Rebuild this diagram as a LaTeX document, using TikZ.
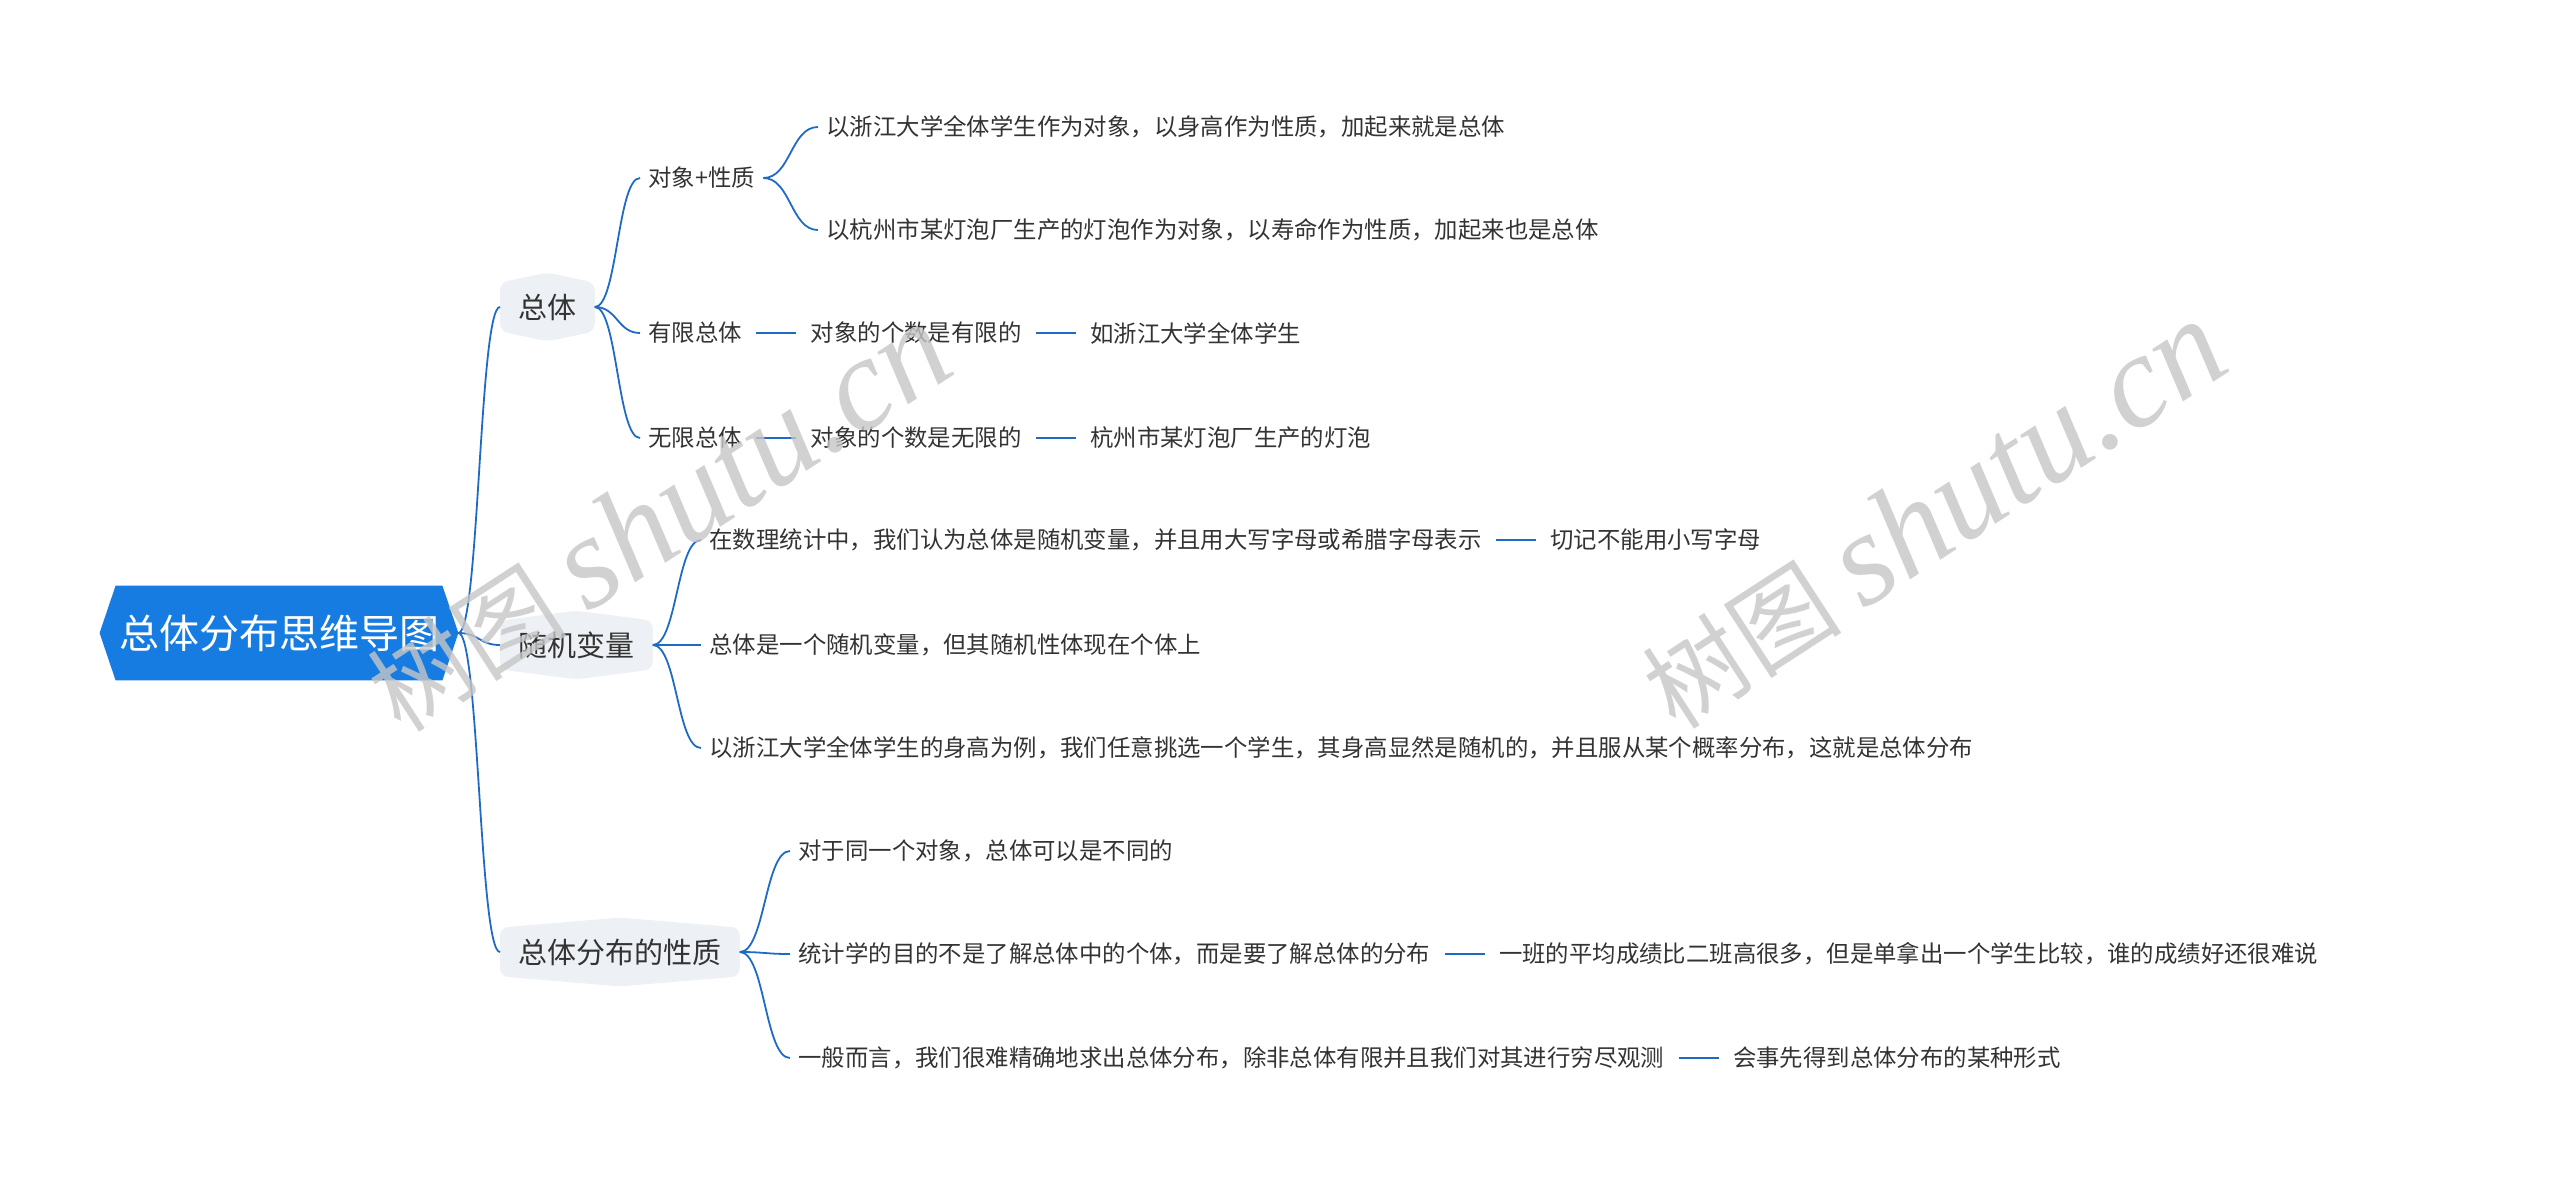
\documentclass[tikz,border=0pt]{standalone}
\usepackage{fontspec}
\setmainfont{Noto Sans CJK SC}
\newfontfamily\wmlatin{Liberation Serif}
\usetikzlibrary{positioning,calc,backgrounds}
\definecolor{rootblue}{HTML}{167CE1}
\definecolor{linkblue}{HTML}{1F6BC4}
\definecolor{topicbg}{HTML}{EDF0F4}
\definecolor{inkgrey}{HTML}{333333}
\tikzset{>=latex}
\tikzset{
  rootnode/.style={font=\fontsize{20pt}{24pt}\selectfont, text=white,
    minimum width=179pt, minimum height=47pt, inner sep=0pt},
  topic/.style={font=\fontsize{14.5pt}{17pt}\selectfont, text=inkgrey,
    inner xsep=9pt, minimum height=34pt, anchor=west},
  leaf/.style={font=\fontsize{11.7pt}{14pt}\selectfont, text=inkgrey,
    inner xsep=4pt, inner ysep=2pt, anchor=west},
  chain/.style={leaf, right=26pt of #1},
  % soft s-curve, vertical in the middle
  branch/.style={draw=linkblue, line width=0.9pt,
    to path={let \p1=(\tikztostart), \p2=(\tikztotarget) in
      .. controls ({(\x1+\x2)/2},\y1) and ({(\x1+\x2)/2},\y2) .. (\tikztotarget)}},
  link/.style={draw=linkblue, line width=1.3pt, shorten <=3pt, shorten >=3pt},
  watermark/.style={text=gray!45, opacity=0.8, rotate=33},
}

\begin{document}
\begin{tikzpicture}[x=0.5pt, y=-0.5pt]
  \useasboundingbox (0,0) rectangle (2560,1183);

  \node[rootnode] (root) at (279,633) {总体分布思维导图};

  \node[topic] (zt) at (500,307) {总体};
  \node[topic] (sjbl) at (500,645) {随机变量};
  \node[topic] (xz) at (500,952) {总体分布的性质};

  % 总体
  \node[leaf] (dx) at (640,178) {对象+性质};
  \node[leaf] (dx1) at (818,127) {以浙江大学全体学生作为对象，以身高作为性质，加起来就是总体};
  \node[leaf] (dx2) at (818,230) {以杭州市某灯泡厂生产的灯泡作为对象，以寿命作为性质，加起来也是总体};
  \node[leaf] (yx) at (640,333) {有限总体};
  \node[chain=yx] (yx1) {对象的个数是有限的};
  \node[chain=yx1] (yx2) {如浙江大学全体学生};
  \node[leaf] (wx) at (640,438) {无限总体};
  \node[chain=wx] (wx1) {对象的个数是无限的};
  \node[chain=wx1] (wx2) {杭州市某灯泡厂生产的灯泡};

  % 随机变量
  \node[leaf] (sj1) at (701,540) {在数理统计中，我们认为总体是随机变量，并且用大写字母或希腊字母表示};
  \node[chain=sj1] (sj1a) {切记不能用小写字母};
  \node[leaf] (sj2) at (701,645) {总体是一个随机变量，但其随机性体现在个体上};
  \node[leaf] (sj3) at (701,748) {以浙江大学全体学生的身高为例，我们任意挑选一个学生，其身高显然是随机的，并且服从某个概率分布，这就是总体分布};

  % 性质
  \node[leaf] (xz1) at (790,851) {对于同一个对象，总体可以是不同的};
  \node[leaf] (xz2) at (790,954) {统计学的目的不是了解总体中的个体，而是要了解总体的分布};
  \node[chain=xz2] (xz2a) {一班的平均成绩比二班高很多，但是单拿出一个学生比较，谁的成绩好还很难说};
  \node[leaf] (xz3) at (790,1058) {一般而言，我们很难精确地求出总体分布，除非总体有限并且我们对其进行穷尽观测};
  \node[chain=xz3] (xz3a) {会事先得到总体分布的某种形式};

  \begin{scope}[on background layer]
    \fill[rootblue] (root.west) -- ($(root.north west)+(16,0)$) -- ($(root.north east)+(-16,0)$)
      -- (root.east) -- ($(root.south east)+(-16,0)$) -- ($(root.south west)+(16,0)$) -- cycle;
    \foreach \n in {zt, sjbl, xz} {
      \fill[topicbg, rounded corners=4pt] ($(\n.north west)+(0,10)$) -- (\n.north)
        -- ($(\n.north east)+(0,10)$) -- ($(\n.south east)+(0,-10)$) -- (\n.south)
        -- ($(\n.south west)+(0,-10)$) -- cycle;
    }
  \end{scope}

  \draw[branch] (root.east) to (zt.west);
  \draw[branch] (root.east) to (sjbl.west);
  \draw[branch] (root.east) to (xz.west);

  \draw[branch] (zt.east) to (dx.west);
  \draw[branch] (zt.east) to (yx.west);
  \draw[branch] (zt.east) to (wx.west);
  \draw[branch] (dx.east) to (dx1.west);
  \draw[branch] (dx.east) to (dx2.west);
  \draw[link] (yx.east) -- (yx1.west);
  \draw[link] (yx1.east) -- (yx2.west);
  \draw[link] (wx.east) -- (wx1.west);
  \draw[link] (wx1.east) -- (wx2.west);

  \draw[branch] (sjbl.east) to (sj1.west);
  \draw[branch] (sjbl.east) to (sj2.west);
  \draw[branch] (sjbl.east) to (sj3.west);
  \draw[link] (sj1.east) -- (sj1a.west);

  \draw[branch] (xz.east) to (xz1.west);
  \draw[branch] (xz.east) to (xz2.west);
  \draw[branch] (xz.east) to (xz3.west);
  \draw[link] (xz2.east) -- (xz2a.west);
  \draw[link] (xz3.east) -- (xz3a.west);

  \node[watermark] (wm1) at (658,518) {\fontsize{50pt}{50pt}\selectfont 树图 {\wmlatin\itshape\fontsize{66pt}{66pt}\selectfont shutu.cn}};
  \node[watermark] (wm2) at (1933,515) {\fontsize{50pt}{50pt}\selectfont 树图 {\wmlatin\itshape\fontsize{66pt}{66pt}\selectfont shutu.cn}};
\end{tikzpicture}
\end{document}
